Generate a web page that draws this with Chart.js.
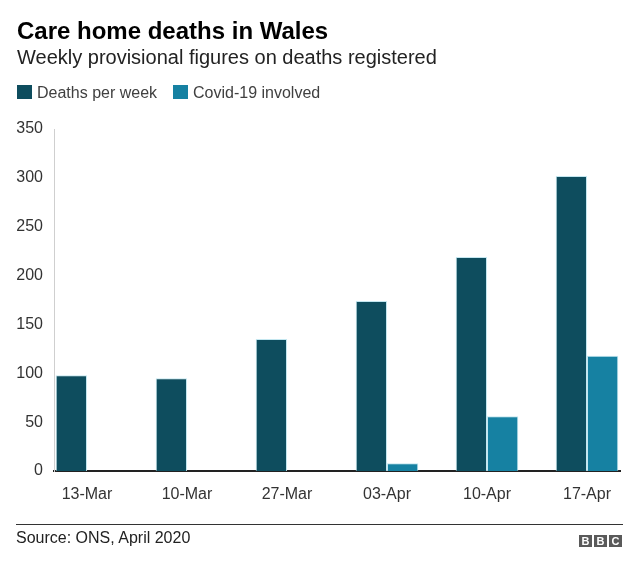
<!DOCTYPE html>
<html>
<head>
<meta charset="utf-8">
<script src="https://cdn.jsdelivr.net/npm/chart.js@4"></script>
<style>
  body { margin: 0; background: #fff; font-family: "Liberation Sans", Arial, sans-serif; }
  #wrap { position: relative; width: 640px; height: 568px; overflow: hidden; }
  #myChart { position: absolute; left: 0; top: 0; }
  .txt { position: absolute; white-space: nowrap; }
  #title { left: 17px; top: 19px; font-size: 24px; line-height: 24px; font-weight: bold; color: #000; }
  #subtitle { left: 17px; top: 47px; font-size: 20px; line-height: 20px; color: #222; }
  #legend { position: absolute; left: 17px; top: 85px; height: 16px; }
  .item { position: absolute; top: 0; font-size: 16px; line-height: 16px; color: #404040; white-space: nowrap; }
  .box { position: absolute; top: 0; width: 15px; height: 14px; }
  #rule { position: absolute; left: 16px; top: 524px; width: 607px; height: 1px; background: #333; }
  #source { left: 16px; top: 530px; font-size: 16px; line-height: 16px; color: #222; }
  #bbc { position: absolute; left: 579px; top: 535px; }
  #bbc span { float: left; width: 13px; height: 12px; margin-right: 2px; background: #5a5a5a; color: #fff;
              font-size: 11px; line-height: 12px; font-weight: bold; text-align: center; }
</style>
</head>
<body>
<div id="wrap">
  <canvas id="myChart" width="640" height="568"></canvas>
  <div class="txt" id="title">Care home deaths in Wales</div>
  <div class="txt" id="subtitle">Weekly provisional figures on deaths registered</div>
  <div id="legend"></div>
  <div id="rule"></div>
  <div class="txt" id="source">Source: ONS, April 2020</div>
  <div id="bbc"><span>B</span><span>B</span><span>C</span></div>
</div>
<script>
var weeks = ['13-Mar', '10-Mar', '27-Mar', '03-Apr', '10-Apr', '17-Apr']
var deathsPerWeek = [98, 95, 135, 174, 219, 302]
var covidInvolved = [null, null, null, 8, 56, 118]
var yTicks = [0, 50, 100, 150, 200, 250, 300, 350]

var seriesNames = ['Deaths per week', 'Covid-19 involved']
var seriesColors = ['#0e4d5e', '#1681a2']

function points(values) {
    return values.map(function(v, i) { return { x: i, y: v } })
}

// html legend built from the series
var legendEl = document.getElementById('legend')
var offsets = [0, 156]
seriesNames.forEach(function(name, i) {
    var box = document.createElement('div')
    box.className = 'box'
    box.style.left = offsets[i] + 'px'
    box.style.background = seriesColors[i]
    legendEl.appendChild(box)
    var t = document.createElement('div')
    t.className = 'item'
    t.style.left = (offsets[i] + 20) + 'px'
    t.textContent = name
    legendEl.appendChild(t)
})

var ctx = document.getElementById('myChart')
var myChart = new Chart(ctx, {
    type: 'bar',
    data: {
        datasets: [{
            label: seriesNames[0],
            data: points(deathsPerWeek),
            backgroundColor: seriesColors[0],
            borderColor: 'rgba(190, 228, 238, 0.9)',
            borderWidth: 1,
            categoryPercentage: 0.626,
            barPercentage: 1
        }, {
            label: seriesNames[1],
            data: points(covidInvolved),
            backgroundColor: seriesColors[1],
            borderColor: 'rgba(190, 228, 238, 0.9)',
            borderWidth: 1,
            categoryPercentage: 0.626,
            barPercentage: 1
        }]
    },
    options: {
        responsive: false,
        animation: false,
        layout: { padding: { left: 0, top: 129, right: 20, bottom: 57 } },
        plugins: {
            legend: { display: false },
            title: { display: false },
            tooltip: { enabled: false }
        },
        scales: {
            x: {
                type: 'linear',
                offset: false,
                min: -0.33,
                max: 5.33,
                grid: { display: false, drawTicks: false },
                border: { display: true, color: '#222', width: 2 },
                afterFit: function(scale) { scale.height = 40 },
                ticks: {
                    stepSize: 1,
                    includeBounds: false,
                    autoSkip: false,
                    maxRotation: 0,
                    padding: 14,
                    color: '#333',
                    font: { family: '"Liberation Sans", Arial, sans-serif', size: 16 },
                    callback: function(v) { return weeks[v] }
                }
            },
            y: {
                min: 0,
                max: 350,
                grid: { display: false, drawTicks: false },
                border: { display: true, color: '#cfcfcf', width: 1 },
                afterFit: function(scale) { scale.width = 54 },
                afterBuildTicks: function(scale) {
                    scale.ticks = yTicks.map(function(v) { return { value: v } })
                },
                ticks: {
                    padding: 11,
                    color: '#333',
                    font: { family: '"Liberation Sans", Arial, sans-serif', size: 16 }
                }
            }
        }
    }
})
</script>
</body>
</html>
